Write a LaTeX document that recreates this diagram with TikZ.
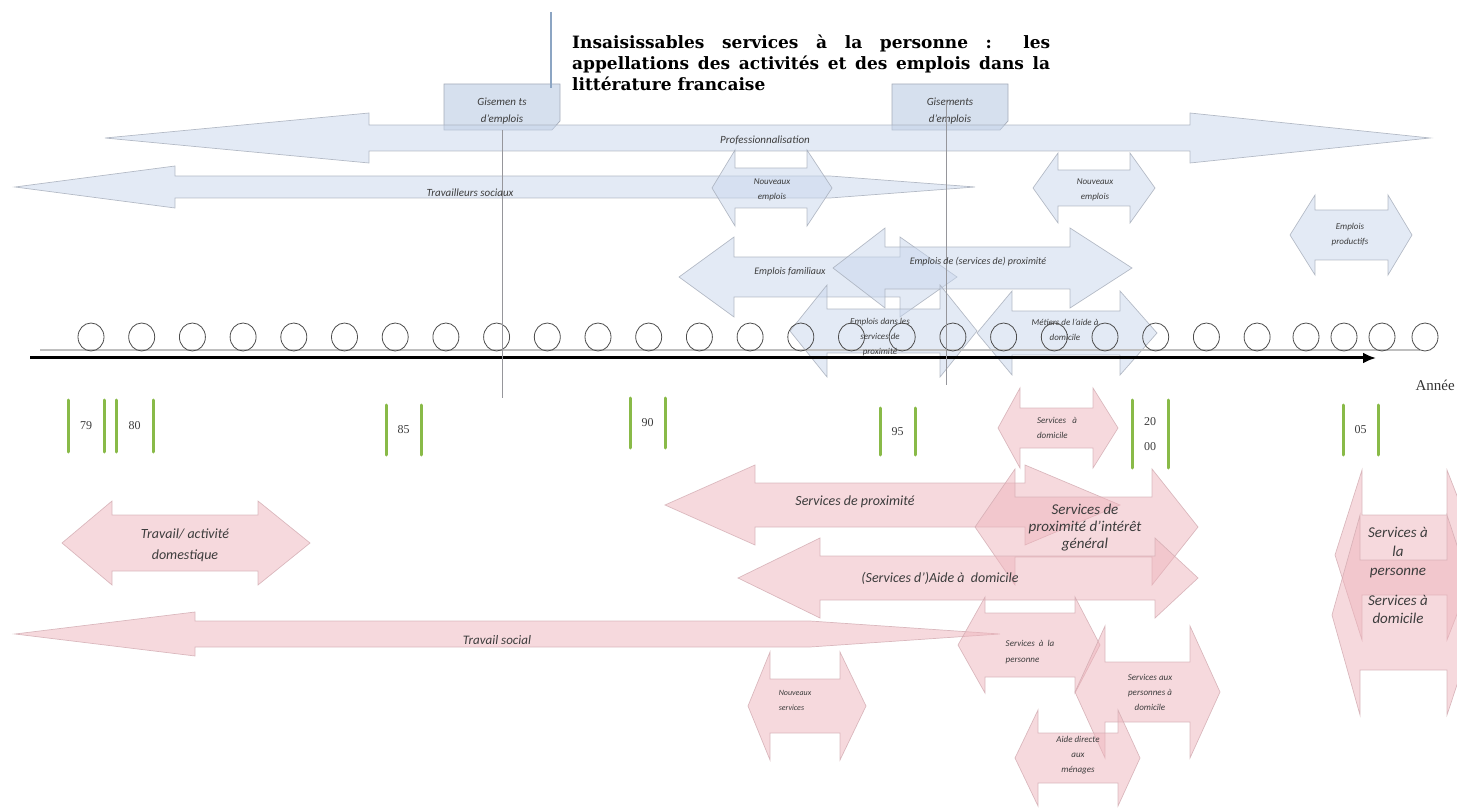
\documentclass[tikz,border=0pt]{standalone}
\usepackage{fontspec}
\setmainfont{Carlito}
\newfontfamily\titlefont{DejaVu Serif}
\newfontfamily\yearfont{Liberation Serif}
\usetikzlibrary{positioning,arrows.meta}

\definecolor{bluefill}{RGB}{200,214,236}
\definecolor{blueedge}{RGB}{165,172,185}
\definecolor{pinkfill}{RGB}{238,180,188}
\definecolor{pinkedge}{RGB}{210,172,178}
\definecolor{yeargreen}{RGB}{137,186,72}
\definecolor{labelgray}{RGB}{60,60,60}
\definecolor{notefill}{RGB}{214,224,238}
\definecolor{guidegray}{RGB}{150,150,155}
\definecolor{titleline}{RGB}{140,165,195}

\newcommand{\fsz}[2]{\fontsize{#1}{#2}\selectfont}
% double arrow: style, left tip, left base, right base, right tip, y, shaft half, head half
\newcommand{\dblarrow}[8]{%
\draw[#1] (#2,#6) -- (#3,#6-#8) -- (#3,#6-#7) -- (#4,#6-#7) -- (#4,#6-#8) -- (#5,#6)
  -- (#4,#6+#8) -- (#4,#6+#7) -- (#3,#6+#7) -- (#3,#6+#8) -- cycle;}
% left arrow with tapered right end
\newcommand{\taperarrow}[8]{%
\draw[#1] (#2,#6) -- (#3,#6-#8) -- (#3,#6-#7) -- (#4,#6-#7) -- (#5,#6)
  -- (#4,#6+#7) -- (#3,#6+#7) -- (#3,#6+#8) -- cycle;}
\newcommand{\yearmark}[6]{%
\draw[yearbar] (#2,#4) -- (#2,#5);
\draw[yearbar] (#3,#4) -- (#3,#5);
\node[yeartxt] (#1) at ({(#2+#3)/2},{(#4+#5)/2}) {#6};}

\tikzset{
  bluearr/.style={fill=bluefill, fill opacity=0.5, draw=blueedge, draw opacity=0.8, line width=0.7pt, line join=miter},
  pinkarr/.style={fill=pinkfill, fill opacity=0.5, draw=pinkedge, draw opacity=0.8, line width=0.7pt, line join=miter},
  lbl/.style={font=\itshape, text=labelgray, align=center, inner sep=0pt},
  yearbar/.style={draw=yeargreen, line width=3pt, line cap=round},
  yeartxt/.style={font=\yearfont\fsz{12}{25}, text=labelgray, align=center, inner sep=0pt},
  notebox/.style={fill=notefill, draw=blueedge, line width=0.7pt},
  guide/.style={draw=guidegray, line width=0.8pt},
  tick/.style={draw=black!70, line width=0.8pt},
}

\begin{document}
\begin{tikzpicture}[x=1pt, y=-1pt]
\useasboundingbox (0,0) rectangle (1457,810);
\clip (0,0) rectangle (1457,810);

% notes
\draw[notebox] (444,84) -- (560,84) -- (560,121) -- (552,130) -- (444,130) -- cycle;
\draw[notebox] (892,84) -- (1008,84) -- (1008,121) -- (1000,130) -- (892,130) -- cycle;
\node[lbl, font=\itshape\fsz{11}{17}] (gis1) at (502,111) {Gisemen ts\\d'emplois};
\node[lbl, font=\itshape\fsz{11}{17}] (gis2) at (950,111) {Gisements\\d'emplois};

% emplois
\dblarrow{bluearr}{105}{369}{1190}{1430}{138}{13}{25}
\taperarrow{bluearr}{15}{175}{830}{975}{187}{11}{21}
\dblarrow{bluearr}{712}{735}{807}{832}{188}{20}{38}
\dblarrow{bluearr}{1033}{1058}{1130}{1155}{188}{18}{35}
\dblarrow{bluearr}{1290}{1315}{1388}{1412}{235}{25}{40}
\dblarrow{bluearr}{679}{734}{900}{957}{277}{20}{40}
\dblarrow{bluearr}{833}{885}{1070}{1132}{268}{21}{40}
\dblarrow{bluearr}{790}{827}{940}{977}{331}{22}{46}
\dblarrow{bluearr}{977}{1012}{1120}{1157}{333}{22}{42}

% services
\dblarrow{pinkarr}{998}{1020}{1093}{1118}{428}{20}{40}
\dblarrow{pinkarr}{665}{755}{1025}{1120}{505}{22}{40}
\dblarrow{pinkarr}{975}{1015}{1152}{1198}{527}{30}{58}
\dblarrow{pinkarr}{738}{820}{1155}{1198}{578}{22}{40}
\taperarrow{pinkarr}{15}{195}{810}{1000}{634}{13}{22}
\dblarrow{pinkarr}{62}{112}{258}{310}{543}{28}{42}
\dblarrow{pinkarr}{958}{985}{1075}{1100}{645}{32}{48}
\dblarrow{pinkarr}{1075}{1105}{1190}{1220}{692}{30}{66}
\dblarrow{pinkarr}{748}{770}{840}{866}{706}{27}{54}
\dblarrow{pinkarr}{1015}{1038}{1118}{1140}{758}{25}{48}
\dblarrow{pinkarr}{1335}{1362}{1447}{1480}{555}{40}{85}
\dblarrow{pinkarr}{1332}{1360}{1447}{1480}{615}{55}{100}

% time axis
\draw[draw=black!25, line width=2pt] (40,350) -- (1420,350);
\foreach \cx in {91,141.7,192.4,243.1,293.8,344.5,395.2,445.9,496.6,547.3,598,648.7,699.4,750.1,800.8,851.5,902.2,952.9,1003.6,1054.3,1105,1155.7,1206.4,1257.1,1306,1344,1382,1425}
  \draw[tick] (\cx,337) ellipse (13 and 14);
\coordinate (axisL) at (30,358);
\coordinate (axisR) at (1376,358);
\draw[line width=3pt, -{Latex[length=13pt, width=11pt]}] (axisL) -- (axisR);
\node[font=\yearfont\fsz{15}{18}, text=black!80, anchor=east, inner sep=0pt] (annee) at (1455,385) {Année};

% guides
\coordinate (g1top) at (502,130);
\coordinate (g1bot) at (502,398);
\coordinate (g2top) at (946,100);
\coordinate (g2bot) at (946,385);
\draw[guide] (g1top) -- (g1bot);
\draw[guide] (g2top) -- (g2bot);
\coordinate (ttop) at (551,12);
\coordinate (tbot) at (551,88);
\draw[draw=titleline, line width=1.2pt] (ttop) -- (tbot);

% years
\yearmark{y79}{68}{104}{400}{452}{79}
\yearmark{y80}{116}{153}{400}{452}{80}
\yearmark{y85}{386}{421}{405}{455}{85}
\yearmark{y90}{630}{665}{398}{448}{90}
\yearmark{y95}{880}{915}{408}{455}{95}
\yearmark{y00}{1132}{1168}{400}{468}{20\\00}
\yearmark{y05}{1343}{1378}{405}{455}{05}

% title
\node[font=\titlefont\bfseries\fsz{17}{21}, text width=478pt, align=justify, anchor=north west, inner sep=0pt] (title) at (572,35)
  {Insaisissables services à la personne~: les\linebreak appellations des activités et des emplois dans la\linebreak littérature francaise};

% labels
\node[lbl, font=\itshape\fsz{11}{13}] (prof) at (765,140) {Professionnalisation};
\node[lbl, font=\itshape\fsz{11}{13}] (travsoc) at (470,193) {Travailleurs sociaux};
\node[lbl, font=\itshape\fsz{9}{15}] (nemp1) at (772,190) {Nouveaux\\emplois};
\node[lbl, font=\itshape\fsz{9}{15}] (nemp2) at (1095,190) {Nouveaux\\emplois};
\node[lbl, font=\itshape\fsz{9}{15}] (eprod) at (1350,235) {Emplois\\productifs};
\node[lbl, font=\itshape\fsz{10}{12}] (efam) at (790,272) {Emplois familiaux};
\node[lbl, font=\itshape\fsz{10}{12}] (eprox) at (978,262) {Emplois de (services de) proximité};
\node[lbl, font=\itshape\fsz{9}{15}] (edans) at (880,337) {Emplois dans les\\services de\\proximité};
\node[lbl, font=\itshape\fsz{9}{15}] (metiers) at (1065,330) {Métiers de l'aide à\\domicile};

\node[lbl, font=\itshape\fsz{9}{15}, align=left] (sdom1) at (1057,428) {Services~~~à\\domicile};
\node[lbl, font=\itshape\fsz{14}{17}] (sprox) at (855,502) {Services de proximité};
\node[lbl, font=\itshape\fsz{15}{17}] (sprig) at (1085,528) {Services de\\proximité d'intérêt\\général};
\node[lbl, font=\itshape\fsz{14}{17}] (aide) at (940,578) {(Services d')Aide à~~domicile};
\node[lbl, font=\itshape\fsz{13}{15}] (trsoc) at (497,640) {Travail social};
\node[lbl, font=\itshape\fsz{14}{21}] (trdom) at (185,545) {Travail/ activité\\domestique};
\node[lbl, font=\itshape\fsz{9}{16}, align=left] (spers) at (1030,652) {Services~~à~~la\\personne};
\node[lbl, font=\itshape\fsz{9}{15}] (sauxp) at (1150,692) {Services aux\\personnes à\\domicile};
\node[lbl, font=\itshape\fsz{8}{15}, align=left] (nserv) at (795,700) {Nouveaux\\services};
\node[lbl, font=\itshape\fsz{9}{15}] (aided) at (1078,755) {Aide directe\\aux\\ménages};
\node[lbl, font=\itshape\fsz{15}{19}] (sperR) at (1398,553) {Services à\\la\\personne};
\node[lbl, font=\itshape\fsz{15}{18}] (sdomR) at (1398,609) {Services à\\domicile};
\end{tikzpicture}
\end{document}
